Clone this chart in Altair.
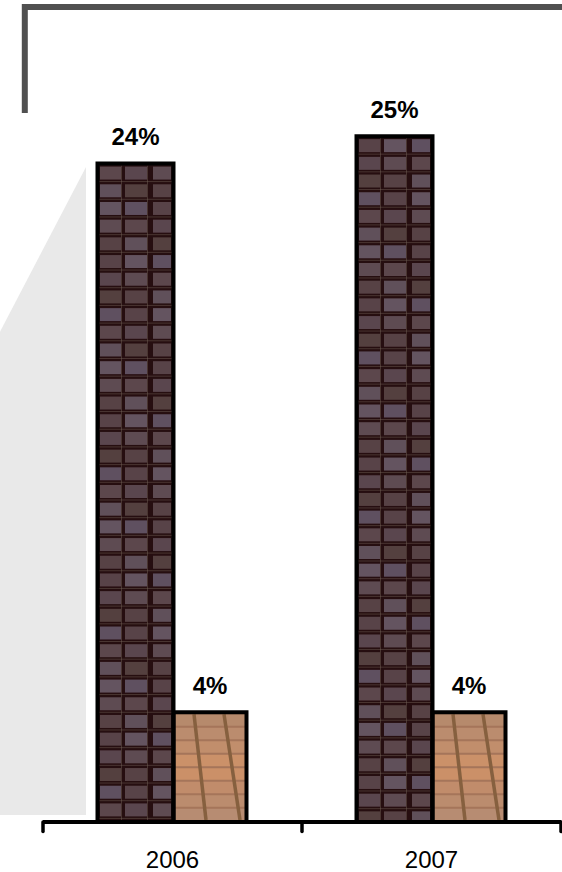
import altair as alt
import pandas as pd

# Share of chocolate sales by year, dark vs. milk
years = ["2006", "2007"]
dark_share = [24, 25]
milk_share = [4, 4]

DARK_SHADES = ["#5c474c", "#584348", "#60505a", "#5a464e", "#645460", "#54403f", "#5e4b52", "#5f5060", "#574245"]
MILK_SHADES = ["#b68a6c", "#bb8c6e", "#c18e6c", "#cb9169", "#cb9068", "#c18c6b", "#bb8c6e", "#b78c72"]

PX_PER_PCT = 27.45
UNIT = 259.0
BASE_PX = 822.5
TOP_FRAME = BASE_PX / PX_PER_PCT


def px_x(px):
    return (px - 43.0) / UNIT


def px_y(px):
    return (BASE_PX - px) / PX_PER_PCT


bars = []
dark_cells = []
dark_seams = []
milk_cells = []
milk_seams = []
labels = []
axis_labels = []
for i, (year, d, m) in enumerate(zip(years, dark_share, milk_share)):
    shift = i * UNIT
    x0, x1, x2 = px_x(97.5 + shift), px_x(173.5 + shift), px_x(246.5 + shift)
    bars.append({"x": x0, "x2": x1, "v": d, "fill": "#260e10"})
    bars.append({"x": x1, "x2": x2, "v": m, "fill": "#a5755a"})
    labels.append({"x": (x0 + x1) / 2, "v": d, "t": f"{d}%"})
    labels.append({"x": (x1 + x2) / 2, "v": m, "t": f"{m}%"})
    axis_labels.append({"x": i + 0.5, "t": year})

    # Chocolate squares of the dark bar: three columns, rows from the top down
    columns = [(100, 121), (125, 147), (153, 171)]
    top_px = BASE_PX - d * PX_PER_PCT
    row = 0
    y = top_px + 3
    while y < BASE_PX - 6:
        bottom = min(y + 13, BASE_PX - 2)
        for c, (a, b) in enumerate(columns):
            dark_cells.append({
                "x": px_x(a + shift), "x2": px_x(b + shift),
                "y": px_y(y), "y2": px_y(bottom),
                "fill": DARK_SHADES[(row * 2 + c * 3 + i) % len(DARK_SHADES)],
            })
        # thin moulding line running through the gap below each row
        if y + 15 < BASE_PX - 2:
            dark_seams.append({
                "x": x0, "x2": x1, "y": px_y(y + 15), "y2": px_y(y + 15),
            })
        row += 1
        y += 17.7
    for a in (121.5, 147.5):
        dark_seams.append({
            "x": px_x(a + shift), "x2": px_x(a + shift),
            "y": px_y(BASE_PX - 2), "y2": px_y(top_px + 2),
        })

    # Milk bar: horizontal tablets with two slanted seams across them
    top_px = BASE_PX - m * PX_PER_PCT + 2
    for r in range(8):
        y = top_px + r * 13.5
        milk_cells.append({
            "x": x1, "x2": x2,
            "y": px_y(y), "y2": px_y(min(y + 11.5, BASE_PX - 1)),
            "fill": MILK_SHADES[r],
        })
    milk_seams.append({"x": px_x(194 + shift), "x2": px_x(206 + shift), "y": px_y(top_px), "y2": px_y(BASE_PX - 2)})
    milk_seams.append({"x": px_x(224 + shift), "x2": px_x(240 + shift), "y": px_y(top_px), "y2": px_y(BASE_PX - 2)})

x_scale = alt.Scale(domain=[0, 2], nice=False, zero=False)
y_scale = alt.Scale(domain=[0, TOP_FRAME], nice=False, zero=True)
X = alt.X("x:Q", scale=x_scale, axis=None)
Y = alt.Y("y:Q", scale=y_scale, axis=None)

wedge = alt.Chart(pd.DataFrame({
    "x": [px_x(0), px_x(86)],
    "y": [px_y(332), px_y(167)],
    "y2": [px_y(815.5), px_y(815.5)],
})).mark_area(color="#e9e9e9", clip=False).encode(x=X, y=Y, y2="y2:Q")

frame = alt.Chart(pd.DataFrame({
    "x": [px_x(24.8), px_x(24.8), px_x(562)],
    "y": [px_y(113), px_y(7), px_y(7)],
    "o": [0, 1, 2],
})).mark_line(color="#505050", strokeWidth=6, strokeCap="butt", strokeJoin="miter", clip=False).encode(
    x=X, y=Y, order="o:Q"
)

bar_fill = alt.Chart(pd.DataFrame(bars)).mark_rect().encode(
    x=X, x2="x2:Q", y=alt.Y("v:Q", scale=y_scale, axis=None), y2=alt.datum(0),
    fill=alt.Fill("fill:N", scale=None),
)

dark_layer = alt.Chart(pd.DataFrame(dark_cells)).mark_rect().encode(
    x=X, x2="x2:Q", y=Y, y2="y2:Q", fill=alt.Fill("fill:N", scale=None),
)

dark_seam_layer = alt.Chart(pd.DataFrame(dark_seams)).mark_rule(color="#75665c", strokeWidth=1, opacity=0.45).encode(
    x=X, x2="x2:Q", y=Y, y2="y2:Q",
)

milk_layer = alt.Chart(pd.DataFrame(milk_cells)).mark_rect().encode(
    x=X, x2="x2:Q", y=Y, y2="y2:Q", fill=alt.Fill("fill:N", scale=None),
)

seam_layer = alt.Chart(pd.DataFrame(milk_seams)).mark_rule(color="#86603f", strokeWidth=3.5).encode(
    x=X, x2="x2:Q", y=Y, y2="y2:Q",
)

bar_outline = alt.Chart(pd.DataFrame(bars)).mark_rect(
    fillOpacity=0, stroke="#000000", strokeWidth=4
).encode(
    x=X, x2="x2:Q", y=alt.Y("v:Q", scale=y_scale, axis=None), y2=alt.datum(0),
)

value_text = alt.Chart(pd.DataFrame(labels)).mark_text(
    font="Liberation Sans", fontWeight="bold", fontSize=24, dy=-18.5, baseline="alphabetic", color="#000000"
).encode(
    x=X, y=alt.Y("v:Q", scale=y_scale, axis=None), text="t:N",
)

# Category axis: baseline across the plot and a tick at each year boundary
axis_line = alt.Chart(pd.DataFrame({"x": [0.0], "x2": [2.0], "y": [0.0]})).mark_rule(
    color="#000000", strokeWidth=4
).encode(x=X, x2="x2:Q", y=Y)

axis_ticks = alt.Chart(pd.DataFrame({
    "x": [0.0, 1.0, 2.0], "y": [0.0] * 3, "y2": [px_y(832)] * 3,
})).mark_rule(color="#000000", strokeWidth=3.5, strokeCap="round", clip=False).encode(
    x=X, y=Y, y2="y2:Q"
)

year_text = alt.Chart(pd.DataFrame(axis_labels)).mark_text(
    font="Liberation Sans", fontSize=24, color="#000000", baseline="alphabetic", dy=46
).encode(x=X, y=alt.datum(0), text="t:N")

chart = alt.layer(
    wedge, frame, bar_fill, dark_layer, dark_seam_layer, milk_layer, seam_layer,
    bar_outline, axis_line, axis_ticks, value_text, year_text,
).properties(
    width=518, height=822,
    padding={"left": 43, "top": 0, "right": 1, "bottom": 50},
    autosize=alt.AutoSizeParams(type="none"),
    view=alt.ViewConfig(stroke=None),
    background="#ffffff",
)

chart.save("out.html", embed_options={"renderer": "svg", "actions": False})
